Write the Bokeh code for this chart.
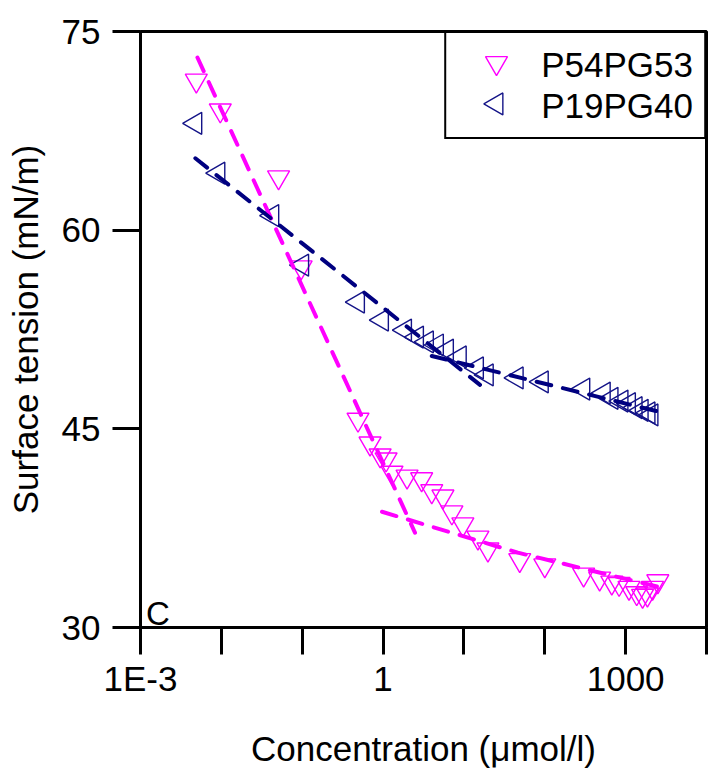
import numpy as np
from bokeh.plotting import figure
from bokeh.models import (Range1d, FixedTicker, CustomJSTickFormatter, Legend,
                          LegendItem, Label)
from bokeh.embed import file_html
from bokeh.resources import INLINE

# ---------------- data ----------------
# P54PG53 (magenta, down triangles)
p54_conc = [0.0049, 0.0097, 0.051, 0.097, 0.49, 0.69, 0.92, 1.09, 1.29, 1.98,
            3.0, 4.0, 5.5, 7.1, 9.7, 14.9, 19.8, 49, 100, 302, 477, 674, 830,
            1100, 1370, 1620, 1860, 2150, 2500]
p54_tension = [71.3, 69.05, 64.0, 57.2, 45.7, 43.9, 43.0, 42.7, 41.7, 41.4,
               41.2, 40.3, 39.9, 38.7, 37.8, 36.8, 35.9, 35.1, 34.7, 34.0, 33.7,
               33.4, 33.3, 33.0, 32.6, 32.4, 32.5, 33.0, 33.5]

# P19PG40 (navy, left triangles)
p19_conc = [0.00477, 0.0092, 0.0427, 0.1, 0.49, 0.97, 1.87, 2.63, 3.49, 4.64,
            6.17, 8.9, 14.5, 19.2, 45, 92, 300, 537, 670, 890, 1100, 1330,
            1580, 1920, 2090]
p19_tension = [68.07, 64.3, 61.1, 57.36, 54.57, 53.21, 52.46, 51.93, 51.56,
               51.33, 50.95, 50.43, 49.6, 49.07, 48.84, 48.54, 48.0, 47.7, 47.3,
               47.1, 46.9, 46.6, 46.4, 46.2, 46.05]

# fitted dashed lines
p54_fit1_conc = [0.00506, 2.48]
p54_fit1_tension = [73.04, 37.16]
p54_fit2_conc = [0.97, 46.5, 2780]
p54_fit2_tension = [38.74, 35.65, 33.01]
p19_fit1_conc = [0.00477, 15.8]
p19_fit1_tension = [65.43, 48.32]
p19_fit2_conc = [4.0, 2630]
p19_fit2_tension = [50.5, 46.28]

x_ticks = [1e-3, 1e-2, 1e-1, 1, 10, 100, 1000, 1e4]
x_tick_labels = ["1E-3", "", "", "1", "", "", "1000", ""]
y_ticks = [30, 45, 60, 75]

series_names = ["P54PG53", "P19PG40"]

# ---------------- style / layout ----------------
MAGENTA = "#FF00FF"
NAVY = "#000080"
NAVY_MARK = "#141488"
FONT = "Liberation Sans"
X_MIN, X_MAX, Y_MIN, Y_MAX = 1e-3, 1e4, 30, 75
BORDER_L, BORDER_R, BORDER_T, BORDER_B = 140, 3, 31, 142
W, H = 709, 770
FRAME_W = W - BORDER_L - BORDER_R
FRAME_H = H - BORDER_T - BORDER_B

# legend geometry (screen px)
LEG_PAD, LEG_GW, LEG_GH, LEG_STANDOFF = 11, 74, 41, 10
LEG_GLYPH_X = 496 - BORDER_L          # glyph centre, px from frame left
MARKER_SIZE = 22

p = figure(width=W, height=H, x_axis_type="log",
           x_range=Range1d(X_MIN, X_MAX), y_range=Range1d(Y_MIN, Y_MAX),
           output_backend="svg", toolbar_location=None,
           min_border_left=BORDER_L, min_border_right=BORDER_R,
           min_border_top=BORDER_T, min_border_bottom=BORDER_B,
           x_axis_label="Concentration (\u03bcmol/l)",
           y_axis_label="Surface tension (mN/m)")

p.xgrid.visible = False
p.ygrid.visible = False
p.outline_line_color = "black"
p.outline_line_width = 3
p.outline_line_alpha = 1
p.background_fill_color = "white"
p.border_fill_color = "white"

p.xaxis.ticker = FixedTicker(ticks=x_ticks, minor_ticks=[])
p.xaxis.formatter = CustomJSTickFormatter(
    args=dict(tvals=x_ticks, tlabels=x_tick_labels),
    code="""
    let best = 0, d = Infinity;
    for (let i = 0; i < tvals.length; i++) {
      const dd = Math.abs(Math.log10(tick) - Math.log10(tvals[i]));
      if (dd < d) { d = dd; best = i; }
    }
    return tlabels[best];
    """)
p.yaxis.ticker = FixedTicker(ticks=y_ticks, minor_ticks=[])

for ax in (p.xaxis[0], p.yaxis[0]):
    ax.axis_line_width = 3
    ax.major_tick_line_width = 3
    ax.major_tick_in = 0
    ax.minor_tick_line_color = None
    ax.major_label_text_font = FONT
    ax.major_label_text_font_size = "35px"
    ax.major_label_text_color = "black"
    ax.axis_label_text_font = FONT
    ax.axis_label_text_font_size = "35px"
    ax.axis_label_text_font_style = "normal"
    ax.axis_label_text_color = "black"

p.xaxis.major_tick_out = 27
p.xaxis.major_label_standoff = 4
p.xaxis.axis_label_standoff = 28
p.yaxis.major_tick_out = 28
p.yaxis.major_label_standoff = 12
p.yaxis.axis_label_standoff = 14

# data markers
p.scatter(p54_conc, p54_tension, marker="inverted_triangle", size=MARKER_SIZE,
          fill_color=None, line_color=MAGENTA, line_width=1.4)
p.scatter(p19_conc, p19_tension, marker="triangle", angle=np.pi / 2,
          size=MARKER_SIZE, fill_color=None, line_color=NAVY_MARK, line_width=1.4)

# fitted dashed lines
dash = "15 12"
for xs, ys, col in ((p54_fit1_conc, p54_fit1_tension, MAGENTA),
                    (p54_fit2_conc, p54_fit2_tension, MAGENTA),
                    (p19_fit1_conc, p19_fit1_tension, NAVY),
                    (p19_fit2_conc, p19_fit2_tension, NAVY)):
    p.line(xs, ys, line_color=col, line_width=4, line_dash=dash,
           line_cap="round")

# legend: Bokeh legend for box + labels (transparent background); symbols are
# drawn as markers underneath, since Bokeh's legend cannot rotate a marker and
# the reference uses a left-pointing triangle
leg_x = 10 ** (np.log10(X_MIN) + LEG_GLYPH_X / FRAME_W *
               (np.log10(X_MAX) - np.log10(X_MIN)))
leg_y = [Y_MAX - (LEG_PAD + LEG_GH * (i + 0.5)) / FRAME_H * (Y_MAX - Y_MIN)
         for i in range(2)]
p.scatter([leg_x], [leg_y[0]], marker="inverted_triangle", size=MARKER_SIZE,
          fill_color=None, line_color=MAGENTA, line_width=1.4)
p.scatter([leg_x], [leg_y[1]], marker="triangle", angle=np.pi / 2,
          size=MARKER_SIZE, fill_color=None, line_color=NAVY_MARK,
          line_width=1.4)

leg_r1 = p.scatter(x=[], y=[], marker="inverted_triangle", line_alpha=0,
                   fill_alpha=0)
leg_r2 = p.scatter(x=[], y=[], marker="triangle", line_alpha=0, fill_alpha=0)
legend = Legend(items=[LegendItem(label=series_names[0], renderers=[leg_r1]),
                       LegendItem(label=series_names[1], renderers=[leg_r2])],
                location="top_right", margin=0, padding=LEG_PAD, spacing=0,
                glyph_width=LEG_GW, glyph_height=LEG_GH,
                label_standoff=LEG_STANDOFF, label_height=LEG_GH,
                label_text_font=FONT, label_text_font_size="35px",
                label_text_color="black",
                border_line_color="black", border_line_width=2,
                border_line_alpha=1,
                background_fill_color="white", background_fill_alpha=0)
p.add_layout(legend)

p.add_layout(Label(x=1.17e-3, y=31.05, text="C", text_font=FONT,
                   text_font_size="33px", text_baseline="alphabetic",
                   text_color="black"))

open("out.html", "w").write(file_html(p, INLINE))
